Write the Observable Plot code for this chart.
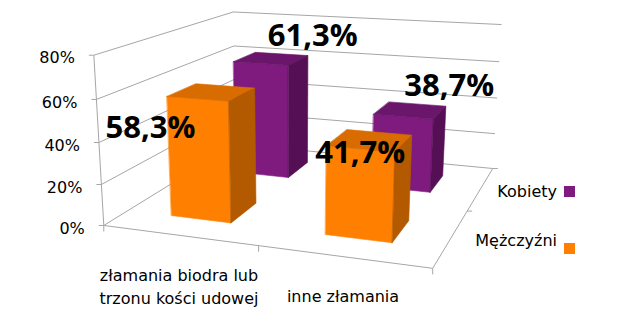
<!DOCTYPE html>
<html><head><meta charset="utf-8">
<script src="https://cdn.jsdelivr.net/npm/d3@7"></script>
<script src="https://cdn.jsdelivr.net/npm/@observablehq/plot@0.6"></script>
<style>
body{margin:0;background:#fff;}
#wrap{position:relative;width:617px;height:332px;overflow:hidden;}
.lg{position:absolute;font-family:"DejaVu Sans";font-size:16px;color:#000;white-space:nowrap;line-height:16px;}
.sw{position:absolute;width:11px;height:11px;}
</style></head><body><div id="wrap"></div>
<script>
// ---- data ----
const categories = ["złamania biodra lub\ntrzonu kości udowej", "inne złamania"];
const seriesNames = ["Mężczyźni", "Kobiety"];          // front row, back row
const menValues = [0.583, 0.417];
const womenValues = [0.613, 0.387];
const tickValues = [0, 0.2, 0.4, 0.6, 0.8];

// ---- styles / layout ----
const W = 617, H = 332;
const seriesColors = [
  {front: "#ff7f00", top: "#d96c00", side: "#b35a00"},
  {front: "#7f1a7f", top: "#6a166a", side: "#551055"}
];
const gridColor = "#a6a6a6";
// label nudges in px [dx, dy] for [series][category]
const labelNudge = [[[-47, 29], [0, 4]], [[52, -27], [46, -31]]];

// camera calibration of the 3D box: [X, value, Z, px, py]
const calib = [
  [0,0,0,104,225],[0,0.2,0,100,183],[0,0.4,0,98,142],[0,0.6,0,97,99],[0,0.8,0,93,55],
  [0,0.8,2,233,11],[0,0.6,2,233,45],[0,0.4,2,234,80],
  [2,0.8,2,500,24],[2,0.6,2,500,62],[2,0.4,2,497,97],[2,0.2,2,494,133],[2,0,2,492,168],
  [2,0,0,432,268],[1,0,0,258,246],[2,0,1,467,210]
];

function fitCamera(points){
  const cx=300, cy=150, s=200, k=2.5;
  const A=[], b=[];
  for (const [X,V,Z,u0,v0] of points){
    const Y=V*k, u=(u0-cx)/s, v=(v0-cy)/s;
    A.push([X,Y,Z,1,0,0,0,0,-u*X,-u*Y,-u*Z]); b.push(u);
    A.push([0,0,0,0,X,Y,Z,1,-v*X,-v*Y,-v*Z]); b.push(v);
  }
  const n=11, M=Array.from({length:n},()=>new Array(n+1).fill(0));
  for (let r=0;r<A.length;r++) for (let i=0;i<n;i++){ for (let j=0;j<n;j++) M[i][j]+=A[r][i]*A[r][j]; M[i][n]+=A[r][i]*b[r]; }
  for (let i=0;i<n;i++){
    let p=i; for (let r=i+1;r<n;r++) if (Math.abs(M[r][i])>Math.abs(M[p][i])) p=r;
    [M[i],M[p]]=[M[p],M[i]];
    for (let r=0;r<n;r++){ if(r===i) continue; const f=M[r][i]/M[i][i]; for (let j=i;j<=n;j++) M[r][j]-=f*M[i][j]; }
  }
  const q=M.map((row,i)=>row[n]/row[i]);
  return (X,V,Z)=>{ const Y=V*k; const w=q[8]*X+q[9]*Y+q[10]*Z+1;
    return [(q[0]*X+q[1]*Y+q[2]*Z+q[3])/w*s+cx, (q[4]*X+q[5]*Y+q[6]*Z+q[7])/w*s+cy]; };
}
const proj = fitCamera(calib);

const pl = d3.formatLocale({decimal:",", thousands:" ", grouping:[3], currency:["", " zł"], percent:"%"});
const fmtLabel = pl.format(".1%"), fmtTick = pl.format(".0%");

const yMax = tickValues[tickValues.length-1];
const barHalf = 0.2; // half width in category units
const seriesValues = [menValues, womenValues];

// grid segments
const seg = (a,b)=>({x1:a[0],y1:a[1],x2:b[0],y2:b[1]});
const grid = [];
for (const t of tickValues){
  grid.push(seg(proj(0,t,0), proj(0,t,2)));
  grid.push(seg(proj(0,t,2), proj(2,t,2)));
}
grid.push(seg(proj(0,0,0), proj(0,yMax,0)));
grid.push(seg(proj(0,0,0), proj(2,0,0)));
grid.push(seg(proj(2,0,0), proj(2,0,2)));
const ticks = [];
for (const t of tickValues){ const p=proj(0,t,0); ticks.push({x1:p[0]-5,y1:p[1],x2:p[0],y2:p[1]}); }
for (let i=0;i<=categories.length;i++){ const p=proj(i,0,0); ticks.push({x1:p[0],y1:p[1],x2:p[0],y2:p[1]+6}); }
for (let j=1;j<=seriesNames.length;j++){ const p=proj(2,0,j); ticks.push({x1:p[0],y1:p[1],x2:p[0]+5,y2:p[1]}); }

// bar faces, back row first
const faces = [];
const valueLabels = [];
for (let s=seriesNames.length-1;s>=0;s--){
  categories.forEach((c,i)=>{
    const v=seriesValues[s][i];
    const x0=i+0.5-barHalf, x1=i+0.5+barHalf, z0=s+0.5-barHalf, z1=s+0.5+barHalf;
    const col=seriesColors[s];
    const quads=[
      [[x0,0,z0],[x1,0,z0],[x1,v,z0],[x0,v,z0],col.front],
      [[x0,v,z0],[x1,v,z0],[x1,v,z1],[x0,v,z1],col.top],
      [[x1,0,z0],[x1,0,z1],[x1,v,z1],[x1,v,z0],col.side]
    ];
    quads.forEach((qd,f)=>{
      for (let k=0;k<4;k++){ const p=proj(...qd[k]); faces.push({face:`${s}-${i}-${f}`, x:p[0], y:p[1], fill:qd[4]}); }
    });
    const a=proj(i+0.5, v, z0);
    valueLabels.push({x:a[0]+labelNudge[s][i][0], y:a[1]+labelNudge[s][i][1], text:fmtLabel(v)});
  });
}
const tickLabels = tickValues.map(t=>{const p=proj(0,t,0); return {x:p[0]-19, y:p[1]+3, text:fmtTick(t)};});
const catLabels = categories.map((c,i)=>{const p=proj(i+0.5,0,0); return {x:p[0], y:p[1]+29, text:c};});

const chart = Plot.plot({
  width: W, height: H, margin: 0,
  x: {type:"linear", domain:[0,W], range:[0,W], axis:null},
  y: {type:"linear", domain:[0,H], range:[0,H], axis:null},
  color: {type:"identity"},
  style: {background:"#fff", overflow:"visible"},
  marks: [
    Plot.link(grid, {x1:"x1", y1:"y1", x2:"x2", y2:"y2", stroke:gridColor, strokeWidth:1}),
    Plot.link(ticks, {x1:"x1", y1:"y1", x2:"x2", y2:"y2", stroke:gridColor, strokeWidth:1}),
    Plot.line(faces, {x:"x", y:"y", z:"face", fill:"fill", stroke:"fill", strokeWidth:0.6, curve:"linear-closed"}),
    Plot.text(tickLabels, {x:"x", y:"y", text:"text", textAnchor:"end", fontFamily:"DejaVu Sans", fontSize:16, fill:"#000"}),
    Plot.text(catLabels, {x:"x", y:"y", text:"text", textAnchor:"middle", lineAnchor:"top", lineHeight:1.45, fontFamily:"DejaVu Sans", fontSize:16, fill:"#000"}),
    Plot.text(valueLabels, {x:"x", y:"y", text:"text", textAnchor:"middle", fontFamily:"Open Sans", fontWeight:"bold", fontSize:31, fill:"#000"})
  ]
});
const wrap = document.getElementById("wrap");
wrap.appendChild(chart);

// legend (back series listed first)
const legendRows = [
  {name: seriesNames[1], color: seriesColors[1].front, textTop: 184, swTop: 186},
  {name: seriesNames[0], color: seriesColors[0].front, textTop: 233, swTop: 243}
];
for (const r of legendRows){
  const t=document.createElement("div"); t.className="lg"; t.textContent=r.name;
  t.style.right=(W-557)+"px"; t.style.top=r.textTop+"px"; wrap.appendChild(t);
  const sq=document.createElement("div"); sq.className="sw"; sq.style.background=r.color;
  sq.style.left="564px"; sq.style.top=r.swTop+"px"; wrap.appendChild(sq);
}
</script></body></html>
